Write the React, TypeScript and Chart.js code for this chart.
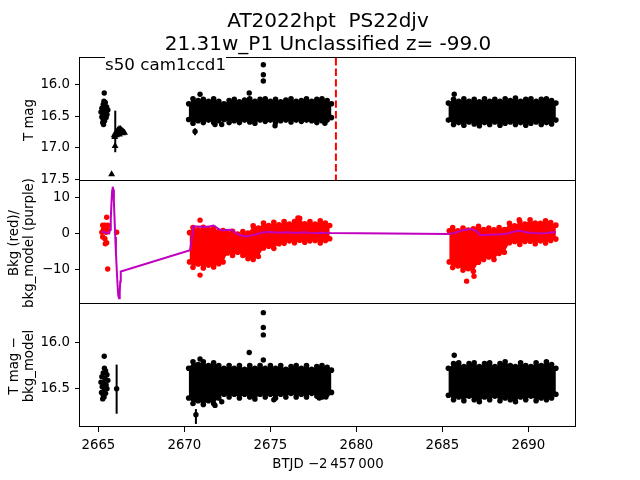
import React, { useEffect, useRef } from "react";
import { Chart, registerables } from "chart.js";

Chart.register(...registerables);

// ---------------- axes ----------------
const X_RANGE = [2663.93, 2692.77];
const X_TICKS = [2665, 2670, 2675, 2680, 2685, 2690];
const P1_RANGE = [15.574, 17.527];
const P1_TICKS = [16.0, 16.5, 17.0, 17.5];
const P2_RANGE = [-19.8, 14.68];
const P2_TICKS = [-10, 0, 10];
const P3_RANGE = [15.587, 16.913];
const P3_TICKS = [16.0, 16.5];

// ---------------- texts ----------------
const TITLE_1 = "AT2022hpt  PS22djv";
const TITLE_2 = "21.31w_P1 Unclassified z= -99.0";
const NOTE = "s50 cam1ccd1";
const YLABEL_1 = "T mag";
const YLABEL_2 = "Bkg (red)/\nbkg_model (purple)";
const YLABEL_3 = "T mag \u2212\nbkg_model";
const XLABEL = "BTJD \u22122\u2009457\u2009000";

// ---------------- panel 1 : T mag ----------------
const P1_EARLY = [
  [2665.34, 16.13], [2665.32, 16.26], [2665.4, 16.28], [2665.28, 16.31], [2665.38, 16.33],
  [2665.48, 16.35], [2665.2, 16.37], [2665.3, 16.38], [2665.55, 16.4], [2665.42, 16.42],
  [2665.15, 16.43], [2665.25, 16.45], [2665.5, 16.47], [2665.35, 16.49], [2665.2, 16.51],
  [2665.45, 16.52], [2665.28, 16.55], [2665.36, 16.57], [2665.25, 16.6], [2665.3, 16.63],
];
const P1_TRIANGLES = [
  [2665.77, 17.42], [2665.97, 16.97],
  [2665.92, 16.8], [2665.98, 16.78], [2666.05, 16.75], [2666.12, 16.72], [2666.2, 16.7],
  [2666.28, 16.7], [2666.36, 16.72], [2666.44, 16.74], [2666.52, 16.76], [2666.05, 16.8],
  [2666.15, 16.77], [2666.3, 16.76], [2666.4, 16.77], [2665.95, 16.83], [2666.22, 16.79],
];
const P1_OUTLIERS = [
  [2674.59, 15.68], [2674.59, 15.84], [2674.59, 15.94], [2673.77, 16.13], [2670.91, 16.15],
  [2670.62, 16.74], [2671.78, 16.63], [2672.17, 16.63], [2675.27, 16.65], [2678.17, 16.61],
  [2685.69, 16.15],
];
const P1_ERRBARS = [
  [2665.98, 16.41, 17.07],
  [2670.62, 16.69, 16.8],
];
const SEG2_X = [
  2670.25, 2670.5, 2670.8, 2671.1, 2671.4, 2671.7, 2672.0, 2672.3, 2672.6, 2672.9,
  2673.2, 2673.5, 2673.8, 2674.1, 2674.4, 2674.7, 2675.0, 2675.3, 2675.6, 2675.9,
  2676.2, 2676.5, 2676.8, 2677.1, 2677.4, 2677.7, 2678.0, 2678.3, 2678.55,
];
const P1_S2_TOP = [
  16.3, 16.22, 16.25, 16.23, 16.26, 16.22, 16.26, 16.3, 16.25, 16.23,
  16.27, 16.24, 16.22, 16.26, 16.23, 16.22, 16.26, 16.23, 16.27, 16.24,
  16.22, 16.26, 16.25, 16.22, 16.26, 16.23, 16.22, 16.25, 16.3,
];
const P1_S2_BOT = [
  16.55, 16.61, 16.57, 16.6, 16.56, 16.6, 16.57, 16.55, 16.6, 16.57,
  16.6, 16.56, 16.59, 16.61, 16.56, 16.58, 16.56, 16.6, 16.57, 16.56,
  16.59, 16.56, 16.58, 16.56, 16.57, 16.6, 16.57, 16.56, 16.52,
];
const SEG3_X = [
  2685.35, 2685.65, 2685.95, 2686.25, 2686.55, 2686.85, 2687.15, 2687.45, 2687.75, 2688.05, 2688.35,
  2688.65, 2688.95, 2689.25, 2689.55, 2689.85, 2690.15, 2690.45, 2690.75, 2691.05, 2691.35, 2691.6,
];
const P1_S3_TOP = [
  16.29, 16.23, 16.26, 16.22, 16.26, 16.23, 16.27, 16.22, 16.26, 16.23, 16.26,
  16.22, 16.25, 16.21, 16.26, 16.23, 16.22, 16.26, 16.23, 16.22, 16.25, 16.29,
];
const P1_S3_BOT = [
  16.56, 16.63, 16.6, 16.64, 16.59, 16.62, 16.65, 16.6, 16.63, 16.59, 16.64,
  16.61, 16.59, 16.63, 16.6, 16.64, 16.61, 16.59, 16.63, 16.6, 16.62, 16.56,
];
const DASH_X = 2678.81;

// ---------------- panel 2 : background ----------------
const P2_EARLY = [
  [2665.48, 4.5], [2665.25, 2.3], [2665.38, 2.3], [2665.55, 2.3], [2665.3, 1.0],
  [2665.45, 0.3], [2665.2, 0.3], [2665.25, -1.0], [2665.38, -1.5], [2665.48, -2.6],
  [2665.4, -2.9], [2665.32, 1.6], [2665.52, 1.2], [2665.54, -10.0], [2666.06, 0.3],
];
const P2_OUTLIERS = [
  [2670.91, -11.7], [2670.91, 3.7], [2676.6, 4.3], [2686.41, -13.4], [2686.84, -12.0], [2689.47, 3.8],
];
const P2_S2_X = [
  2670.3, 2670.5, 2670.8, 2671.1, 2671.4, 2671.7, 2672.0, 2672.25, 2672.5, 2672.8,
  2673.1, 2673.4, 2673.7, 2674.0, 2674.3, 2674.6, 2674.9, 2675.2, 2675.5, 2675.8,
  2676.1, 2676.4, 2676.7, 2677.0, 2677.3, 2677.6, 2677.9, 2678.2, 2678.45,
];
const P2_S2_TOP = [
  0.2, 1.6, 1.0, 1.7, 1.1, 1.5, 0.6, 0.8, 0.0, 0.6,
  -0.2, 0.5, 0.1, 2.1, 1.5, 2.9, 2.2, 3.1, 2.4, 3.3,
  2.6, 3.3, 4.2, 2.7, 3.3, 2.6, 3.5, 2.9, 2.2,
];
const P2_S2_BOT = [
  -8.0, -9.5, -8.6, -9.7, -8.9, -9.4, -8.5, -8.0, -5.5, -6.2,
  -5.3, -6.2, -7.1, -7.3, -6.5, -4.1, -3.6, -4.2, -2.9, -2.8,
  -2.1, -2.6, -1.9, -2.5, -2.1, -2.0, -2.7, -2.0, -1.5,
];
const P2_S3_X = [
  2685.4, 2685.6, 2685.9, 2686.2, 2686.5, 2686.8, 2687.1, 2687.4, 2687.7, 2688.0, 2688.3,
  2688.6, 2688.9, 2689.2, 2689.5, 2689.8, 2690.1, 2690.4, 2690.7, 2691.0, 2691.3, 2691.6,
];
const P2_S3_TOP = [
  0.7, 1.6, 0.7, 1.5, 0.9, 1.3, 2.0, 1.1, 1.5, 1.0, 1.6,
  1.1, 2.8, 2.1, 3.3, 2.6, 3.8, 2.9, 2.8, 3.5, 3.0, 2.3,
];
const P2_S3_BOT = [
  -8.0, -9.6, -9.1, -10.3, -9.9, -10.6, -8.1, -7.3, -6.6, -7.3, -5.6,
  -5.3, -2.6, -2.3, -3.1, -2.3, -2.2, -2.9, -2.1, -2.7, -2.0, -1.6,
];
const BKG_MODEL = [
  [2665.19, 0.5], [2665.35, 0.3], [2665.5, 0.1], [2665.63, 0.0], [2665.68, 1.0],
  [2665.72, 4.0], [2665.76, 8.5], [2665.8, 12.0], [2665.83, 13.1], [2665.86, 12.3],
  [2665.9, 9.0], [2665.94, 4.0], [2665.98, -1.0], [2666.02, -5.5], [2666.07, -10.5],
  [2666.12, -15.0], [2666.16, -17.5], [2666.2, -18.2], [2666.24, -16.5], [2666.27, -13.5],
  [2666.3, -10.7], [2670.33, -4.7], [2670.45, -1.0], [2670.52, 1.9], [2670.8, 1.9],
  [2671.2, 1.8], [2671.5, 2.0], [2671.7, 2.2], [2672.0, 1.2], [2672.17, 0.9],
  [2672.75, 1.0], [2673.0, 0.0], [2673.3, -0.6], [2673.62, -0.9], [2674.0, -0.5],
  [2674.57, 0.3], [2675.0, 0.4], [2675.5, 0.2], [2676.0, 0.3], [2676.5, 0.1],
  [2677.0, 0.3], [2677.5, 0.0], [2678.0, 0.2], [2678.5, 0.1], [2685.35, -0.2],
  [2685.7, 0.1], [2686.2, 0.9], [2686.7, 1.2], [2687.0, 0.6], [2687.2, -0.5],
  [2687.7, -0.4], [2688.2, -0.3], [2688.74, -0.1], [2689.1, 0.4], [2689.4, 0.8],
  [2689.8, 0.4], [2690.2, 0.1], [2690.67, 0.0], [2691.1, 0.1], [2691.43, 0.3], [2691.6, 0.3],
];

// ---------------- panel 3 : T mag - bkg_model ----------------
const P3_EARLY = [
  [2665.34, 16.15], [2665.35, 16.28], [2665.42, 16.31], [2665.28, 16.33], [2665.5, 16.35],
  [2665.2, 16.37], [2665.38, 16.39], [2665.55, 16.41], [2665.15, 16.43], [2665.3, 16.44],
  [2665.45, 16.46], [2665.22, 16.48], [2665.5, 16.5], [2665.35, 16.52], [2665.18, 16.54],
  [2665.42, 16.55], [2665.28, 16.57], [2665.25, 16.61], [2665.33, 16.59], [2666.06, 16.5],
];
const P3_OUTLIERS = [
  [2674.59, 15.68], [2674.59, 15.84], [2674.59, 15.92], [2673.77, 16.11], [2674.59, 16.19],
  [2670.91, 16.18], [2670.67, 16.78], [2671.78, 16.68], [2672.17, 16.64], [2675.2, 16.62],
  [2677.84, 16.6], [2678.23, 16.59], [2685.69, 16.14],
];
const P3_ERRBARS = [
  [2666.06, 16.24, 16.77],
  [2670.67, 16.72, 16.88],
];
const P3_S2_TOP = [
  16.28, 16.21, 16.24, 16.21, 16.25, 16.22, 16.25, 16.28, 16.25, 16.28,
  16.25, 16.29, 16.25, 16.28, 16.25, 16.28, 16.25, 16.28, 16.25, 16.29,
  16.26, 16.25, 16.28, 16.25, 16.29, 16.26, 16.25, 16.27, 16.3,
];
const P3_S2_BOT = [
  16.6, 16.66, 16.63, 16.67, 16.63, 16.66, 16.6, 16.56, 16.59, 16.56,
  16.6, 16.56, 16.59, 16.61, 16.56, 16.59, 16.56, 16.6, 16.56, 16.59,
  16.55, 16.59, 16.56, 16.59, 16.55, 16.58, 16.59, 16.56, 16.54,
];
const P3_S3_TOP = [
  16.28, 16.23, 16.22, 16.26, 16.23, 16.22, 16.26, 16.23, 16.22, 16.26, 16.23,
  16.21, 16.25, 16.26, 16.22, 16.25, 16.26, 16.22, 16.25, 16.21, 16.24, 16.28,
];
const P3_S3_BOT = [
  16.57, 16.62, 16.59, 16.63, 16.58, 16.62, 16.64, 16.59, 16.62, 16.58, 16.63,
  16.6, 16.62, 16.64, 16.59, 16.62, 16.58, 16.63, 16.6, 16.62, 16.6, 16.56,
];

// ---------------- styling ----------------
const BLACK = "#000000";
const RED = "#ff0000";
const PURPLE = "#bf00bf";
const FONT = "DejaVu Sans";
const TICK_FONT = { family: FONT, size: 13.3 };
const AXES_LEFT = 80;
const AXES_RIGHT_PAD = 64;

const pairs = (a: number[][]) => a.map(([x, y]) => ({ x, y }));
const zip = (xs: number[], ys: number[]) => xs.map((x, i) => ({ x, y: ys[i] }));

const scatter = (data: any[], color: string, r = 2.7, style = "circle") => ({
  data,
  showLine: false,
  pointRadius: r,
  pointStyle: style,
  pointBackgroundColor: color,
  pointBorderColor: color,
  pointBorderWidth: 0,
  borderColor: color,
  backgroundColor: color,
});

const bandLine = (xs: number[], ys: number[], color: string, fill: any) => ({
  data: zip(xs, ys),
  borderColor: color,
  backgroundColor: color,
  borderWidth: 0,
  pointRadius: 2.8,
  pointBackgroundColor: color,
  pointBorderColor: color,
  pointBorderWidth: 0,
  fill,
});

const band = (xs: number[], top: number[], bot: number[], color: string) => [
  bandLine(xs, top, color, "+1"),
  bandLine(xs, bot, color, false),
];

const gridOpts = {
  display: true,
  drawOnChartArea: false,
  drawTicks: true,
  tickLength: 5,
  color: BLACK,
  lineWidth: 1,
};

function yScale(range: number[], ticks: number[], reverse: boolean, fmt: (v: number) => string) {
  return {
    type: "linear",
    min: range[0],
    max: range[1],
    reverse,
    afterFit: (s: any) => {
      s.width = AXES_LEFT;
    },
    afterBuildTicks: (s: any) => {
      s.ticks = ticks.map((v) => ({ value: v }));
    },
    ticks: { callback: (v: any) => fmt(Number(v)), color: BLACK, font: TICK_FONT, padding: 5, autoSkip: false },
    grid: gridOpts,
    border: { display: false },
  };
}

function xScale(show: boolean) {
  return {
    type: "linear",
    min: X_RANGE[0],
    max: X_RANGE[1],
    display: show,
    afterFit: (s: any) => {
      if (show) s.height = 53;
    },
    afterBuildTicks: (s: any) => {
      s.ticks = X_TICKS.map((v) => ({ value: v }));
    },
    ticks: {
      callback: (v: any) => String(v),
      color: BLACK,
      font: TICK_FONT,
      padding: 6,
      maxRotation: 0,
      autoSkip: false,
    },
    grid: gridOpts,
    border: { display: false },
  };
}

const framePlugin = {
  id: "frame",
  afterDraw(chart: any) {
    const { ctx, chartArea: a } = chart;
    ctx.save();
    ctx.strokeStyle = BLACK;
    ctx.lineWidth = 1;
    ctx.strokeRect(a.left - 0.5, a.top - 0.5, a.right - a.left, a.bottom - a.top);
    ctx.restore();
  },
};

function errPlugin(bars: number[][]) {
  return {
    id: "errbars",
    afterDatasetsDraw(chart: any) {
      const { ctx } = chart;
      const xs = chart.scales.x;
      const ys = chart.scales.y;
      ctx.save();
      ctx.strokeStyle = BLACK;
      ctx.lineWidth = 2;
      bars.forEach(([x, lo, hi]) => {
        const px = xs.getPixelForValue(x);
        ctx.beginPath();
        ctx.moveTo(px, ys.getPixelForValue(lo));
        ctx.lineTo(px, ys.getPixelForValue(hi));
        ctx.stroke();
      });
      ctx.restore();
    },
  };
}

function baseOptions(top: number, bottom: number, showX: boolean, y: any) {
  return {
    responsive: false,
    animation: false,
    devicePixelRatio: 1,
    events: [],
    layout: { padding: { left: 0, right: AXES_RIGHT_PAD, top, bottom } },
    elements: { line: { tension: 0 } },
    plugins: { legend: { display: false }, tooltip: { enabled: false }, title: { display: false } },
    scales: { x: xScale(showX), y },
  };
}

const fmt1 = (v: number) => v.toFixed(1);
const fmtInt = (v: number) => (v < 0 ? "\u2212" + Math.abs(v) : String(v));

function config1(): any {
  return {
    type: "line",
    data: {
      datasets: [
        {
          data: [
            { x: DASH_X, y: P1_RANGE[0] },
            { x: DASH_X, y: P1_RANGE[1] },
          ],
          borderColor: RED,
          borderWidth: 2,
          borderDash: [7.4, 3.2],
          pointRadius: 0,
          fill: false,
        },
        scatter(pairs(P1_TRIANGLES), BLACK, 4, "triangle"),
        scatter(pairs(P1_EARLY), BLACK),
        scatter(pairs(P1_OUTLIERS), BLACK),
        ...band(SEG2_X, P1_S2_TOP, P1_S2_BOT, BLACK),
        ...band(SEG3_X, P1_S3_TOP, P1_S3_BOT, BLACK),
      ],
    },
    options: baseOptions(58, 480 - 181, false, yScale(P1_RANGE, P1_TICKS, true, fmt1)),
    plugins: [framePlugin, errPlugin(P1_ERRBARS)],
  };
}

function config2(): any {
  return {
    type: "line",
    data: {
      datasets: [
        {
          data: pairs(BKG_MODEL),
          borderColor: PURPLE,
          backgroundColor: PURPLE,
          borderWidth: 2,
          pointRadius: 0,
          fill: false,
        },
        scatter(pairs(P2_EARLY), RED),
        scatter(pairs(P2_OUTLIERS), RED),
        ...band(P2_S2_X, P2_S2_TOP, P2_S2_BOT, RED),
        ...band(P2_S3_X, P2_S3_TOP, P2_S3_BOT, RED),
      ],
    },
    options: baseOptions(181, 480 - 304, false, yScale(P2_RANGE, P2_TICKS, false, fmtInt)),
    plugins: [framePlugin],
  };
}

function config3(): any {
  return {
    type: "line",
    data: {
      datasets: [
        scatter(pairs(P3_EARLY), BLACK),
        scatter(pairs(P3_OUTLIERS), BLACK),
        ...band(SEG2_X, P3_S2_TOP, P3_S2_BOT, BLACK),
        ...band(SEG3_X, P3_S3_TOP, P3_S3_BOT, BLACK),
      ],
    },
    options: baseOptions(304, 0, true, yScale(P3_RANGE, P3_TICKS, true, fmt1)),
    plugins: [framePlugin, errPlugin(P3_ERRBARS)],
  };
}

const canvasStyle: React.CSSProperties = { position: "absolute", left: 0, top: 0, width: 640, height: 480 };

function YLabel({ text, cx, cy }: { text: string; cx: number; cy: number }) {
  return (
    <div
      style={{
        position: "absolute",
        left: cx,
        top: cy,
        transform: "translate(-50%, -50%) rotate(-90deg)",
        whiteSpace: "pre",
        textAlign: "center",
        fontSize: 13.3,
        lineHeight: "15px",
      }}
    >
      {text}
    </div>
  );
}

export default function App() {
  const r1 = useRef<HTMLCanvasElement>(null);
  const r2 = useRef<HTMLCanvasElement>(null);
  const r3 = useRef<HTMLCanvasElement>(null);

  useEffect(() => {
    Chart.defaults.font.family = FONT;
    const charts = [
      new Chart(r1.current as HTMLCanvasElement, config1()),
      new Chart(r2.current as HTMLCanvasElement, config2()),
      new Chart(r3.current as HTMLCanvasElement, config3()),
    ];
    return () => charts.forEach((c) => c.destroy());
  }, []);

  return (
    <div
      style={{
        position: "fixed",
        left: 0,
        top: 0,
        width: 640,
        height: 480,
        background: "#fff",
        overflow: "hidden",
        fontFamily: FONT,
        color: "#000",
      }}
    >
      <canvas ref={r1} width={640} height={480} style={canvasStyle} />
      <canvas ref={r2} width={640} height={480} style={canvasStyle} />
      <canvas ref={r3} width={640} height={480} style={canvasStyle} />
      <div
        style={{
          position: "absolute",
          left: 328,
          top: 9,
          transform: "translateX(-50%)",
          whiteSpace: "pre",
          textAlign: "center",
          fontSize: 20,
          lineHeight: "23px",
        }}
      >
        {TITLE_1 + "\n" + TITLE_2}
      </div>
      <div
        style={{
          position: "absolute",
          left: 105,
          top: 56,
          whiteSpace: "pre",
          fontSize: 16.7,
          lineHeight: "16.7px",
          background: "#fff",
        }}
      >
        {NOTE}
      </div>
      <YLabel text={YLABEL_1} cx={28} cy={119.5} />
      <YLabel text={YLABEL_2} cx={20.5} cy={242.5} />
      <YLabel text={YLABEL_3} cx={20.5} cy={365.5} />
      <div
        style={{
          position: "absolute",
          left: 328,
          top: 456,
          transform: "translateX(-50%)",
          whiteSpace: "pre",
          fontSize: 13.3,
          lineHeight: "15px",
        }}
      >
        {XLABEL}
      </div>
    </div>
  );
}
